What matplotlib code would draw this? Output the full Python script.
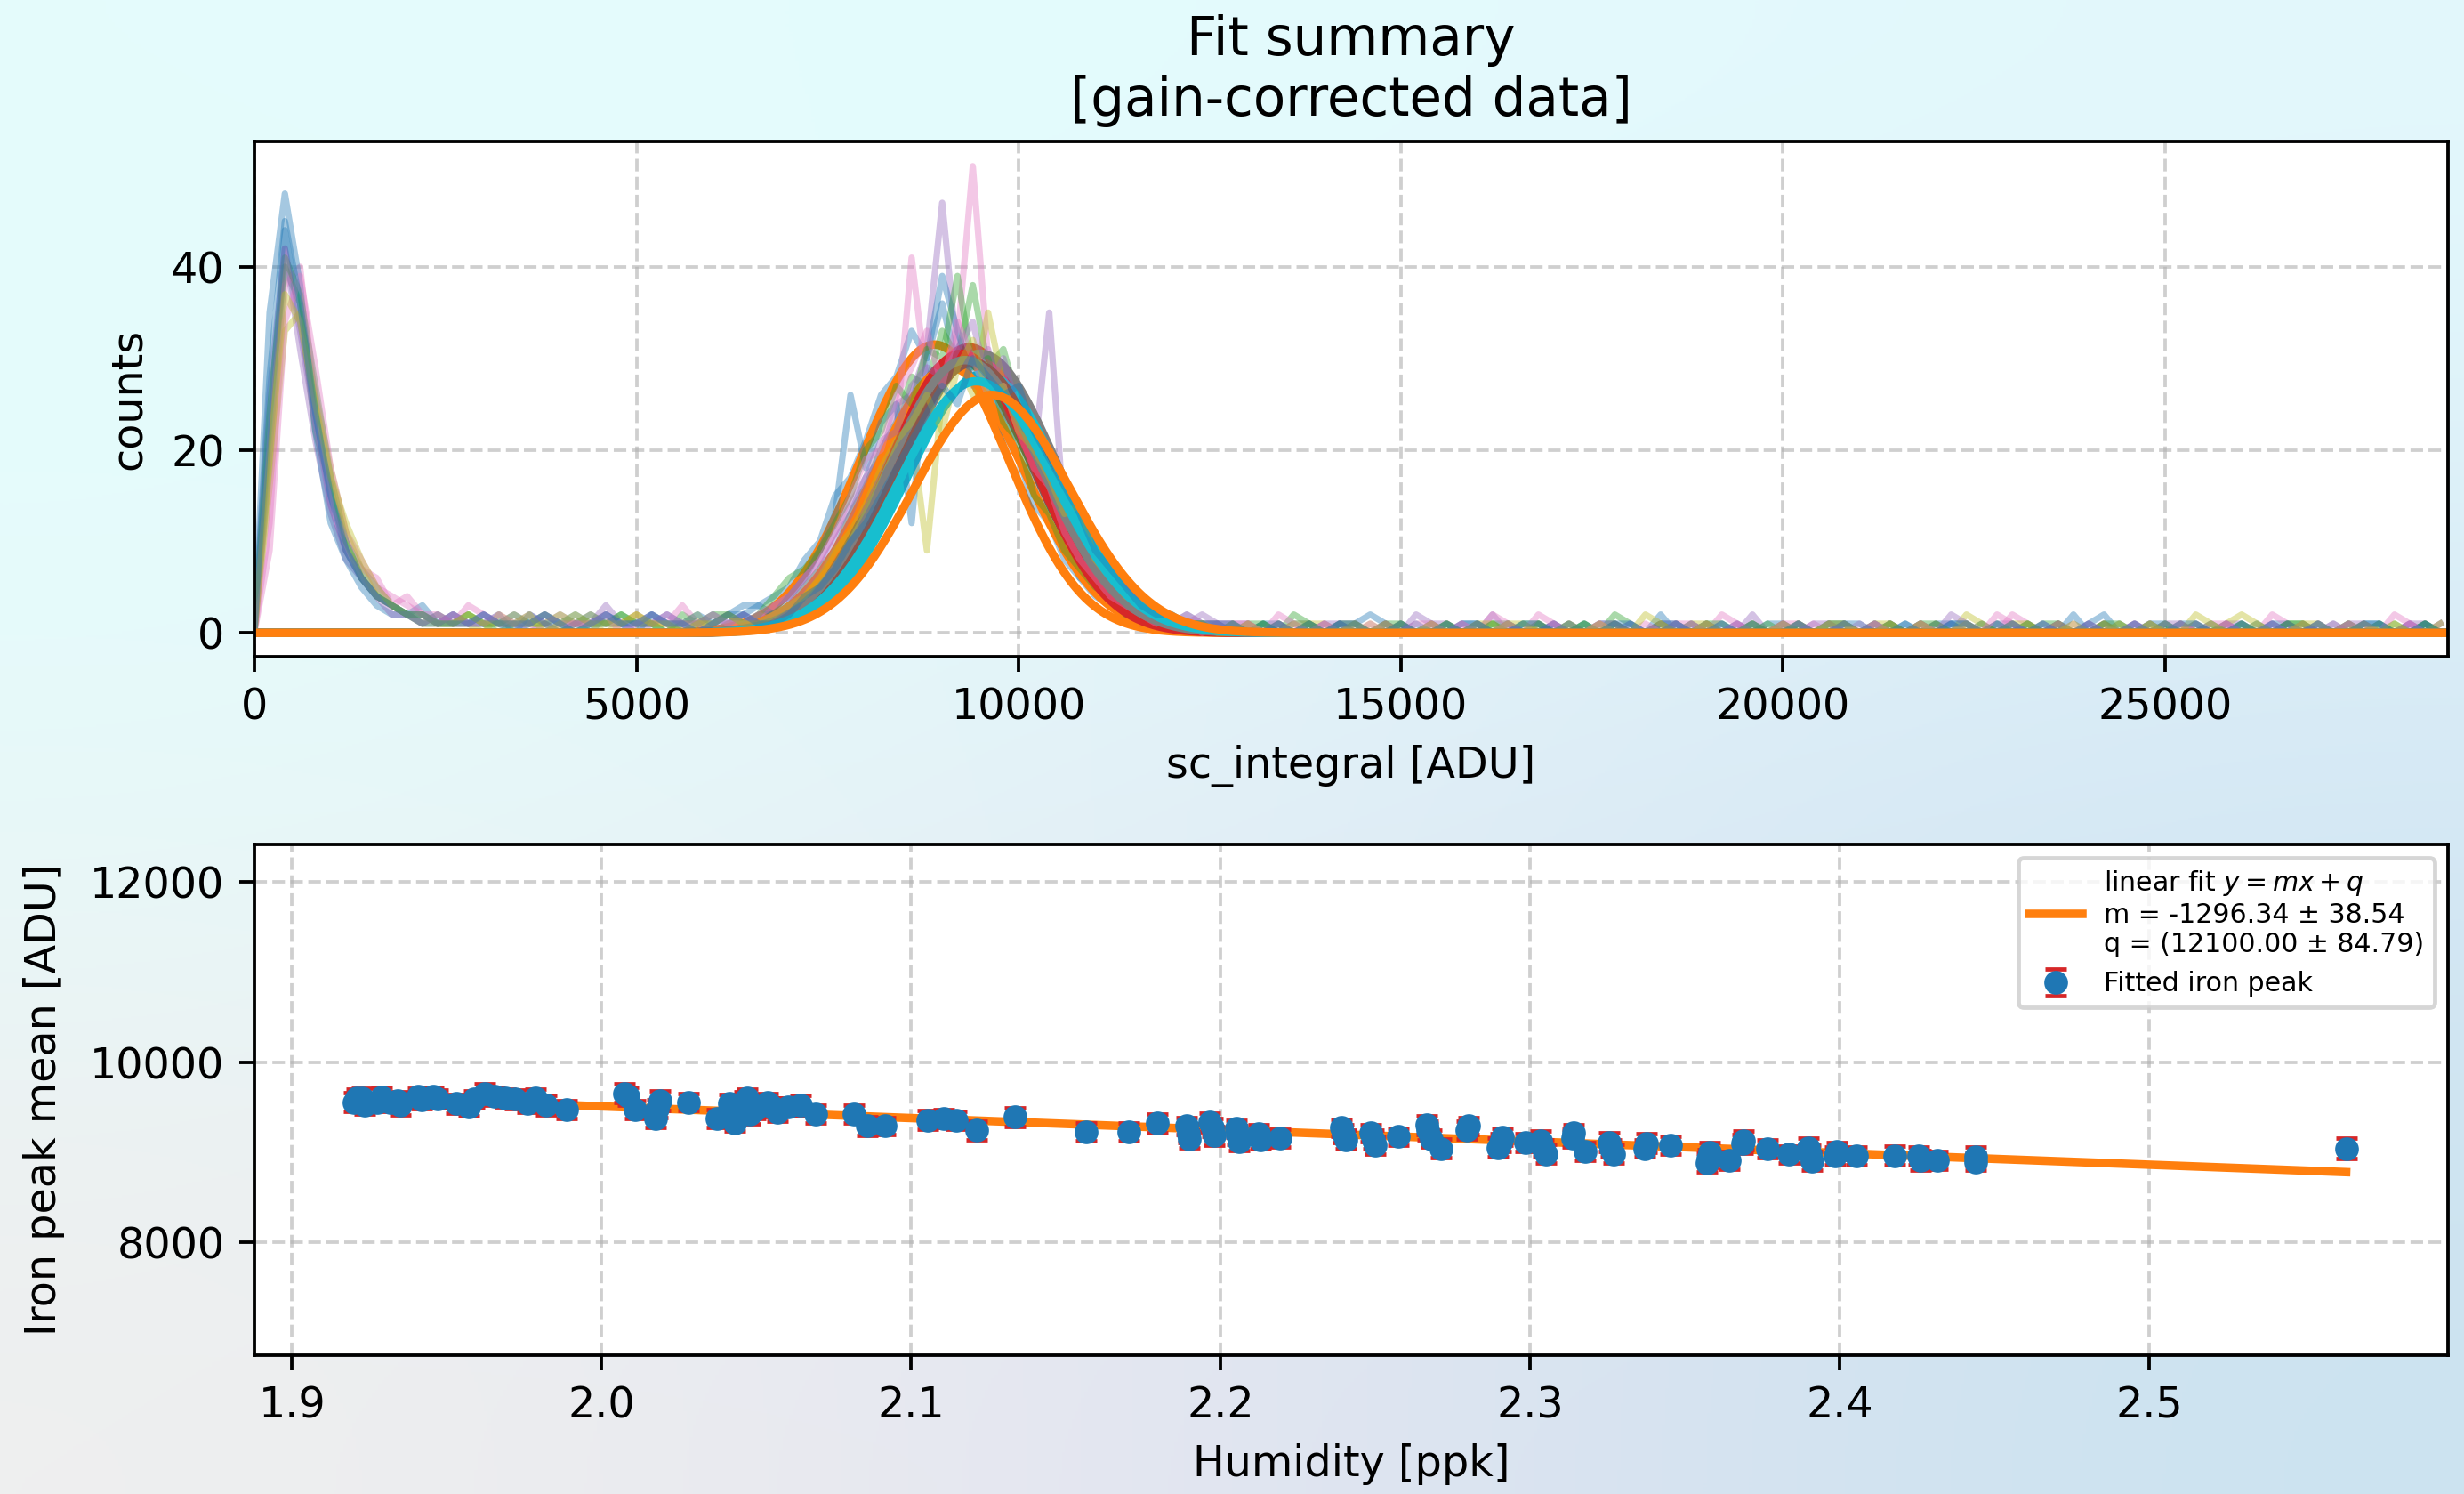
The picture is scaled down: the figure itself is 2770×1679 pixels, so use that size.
import numpy as np
import matplotlib
matplotlib.use("Agg")
import matplotlib.pyplot as plt
from matplotlib.colors import to_rgb

# ---------------- data: top panel (histograms, 200 ADU sampling) ----------------
bin_step = 200
counts_1 = [0, 22, 44, 34, 24, 15, 10, 7, 5, 3, 2, 3, 1,
            2, 1, 1, 2, 0, 1, 2, 1, 1, 0, 2, 1, 1, 2, 1, 0, 1, 2, 1, 2,
            3, 4, 5, 8, 10, 15, 17, 21, 26, 28, 33, 30, 36, 29, 31, 26, 24, 19, 17, 12, 10, 6, 5, 3, 2, 2, 1, 1, 2, 1, 0,
            1, 0, 1, 1, 0, 1, 0, 0, 1, 2, 1, 0, 0, 1, 0, 1, 1, 0, 0, 1, 0, 1, 0, 0, 1, 1, 0, 0, 2, 0,
            1, 0, 0, 1, 0, 1, 1, 0, 0, 1, 0, 0, 1, 0, 1, 0, 0, 1, 1, 0, 0, 1, 0, 0, 1, 0, 1, 2, 0, 0,
            1, 0, 0, 1, 0, 1, 0, 0, 1, 1, 0, 0, 1, 0, 0, 1, 0, 1, 0, 1]
counts_2 = [0, 18, 40, 36, 22, 16, 9, 6, 4, 3, 2, 1, 2,
            1, 2, 1, 0, 1, 1, 2, 1, 0, 1, 1, 2, 1, 1, 0, 2, 1, 1, 2, 1,
            2, 2, 3, 5, 7, 9, 13, 16, 20, 23, 28, 27, 33, 30, 38, 29, 31, 25, 23, 18, 15, 11, 8, 6, 4, 3, 2, 2, 1, 1, 1,
            0, 1, 1, 0, 2, 1, 0, 1, 0, 0, 1, 1, 0, 0, 1, 0, 0, 1, 1, 0, 1, 0, 0, 1, 0, 2, 1, 0, 0, 1,
            0, 1, 0, 0, 1, 0, 0, 1, 0, 1, 1, 0, 1, 0, 0, 1, 0, 0, 1, 0, 1, 0, 0, 1, 1, 0, 0, 1, 0, 0,
            0, 1, 0, 1, 0, 0, 1, 0, 0, 1, 1, 0, 0, 1, 0, 1, 0, 0, 1, 0]
counts_3 = [0, 26, 42, 31, 21, 13, 8, 6, 4, 3, 2, 2, 1,
            2, 1, 2, 1, 1, 0, 1, 2, 1, 1, 3, 1, 0, 1, 2, 1, 1, 0, 1, 2,
            1, 3, 4, 6, 8, 11, 14, 17, 19, 25, 26, 31, 47, 30, 27, 31, 24, 22, 19, 35, 12, 9, 6, 5, 3, 2, 2, 1, 1, 2, 1,
            1, 1, 0, 1, 0, 0, 1, 0, 1, 0, 0, 1, 0, 1, 1, 0, 0, 2, 0, 0, 1, 0, 1, 0, 0, 1, 0, 0, 1, 1,
            0, 0, 1, 0, 2, 0, 0, 1, 0, 0, 1, 0, 0, 1, 0, 1, 0, 1, 0, 0, 1, 1, 0, 0, 1, 0, 0, 1, 0, 1,
            0, 0, 1, 0, 0, 1, 1, 0, 0, 1, 0, 1, 0, 0, 1, 0, 0, 1, 1, 0]
counts_4 = [0, 12, 38, 40, 25, 14, 9, 7, 6, 3, 4, 2, 2,
            1, 3, 2, 1, 2, 1, 0, 1, 1, 2, 1, 1, 2, 1, 1, 3, 1, 1, 2, 1,
            2, 1, 3, 4, 6, 9, 12, 14, 18, 22, 41, 27, 29, 32, 51, 30, 28, 24, 21, 19, 14, 10, 9, 5, 4, 3, 2, 1, 2, 1, 1,
            0, 1, 0, 2, 1, 0, 0, 1, 1, 0, 1, 0, 0, 1, 0, 1, 0, 2, 1, 0, 0, 1, 0, 0, 1, 0, 1, 0, 0, 1,
            1, 0, 2, 1, 0, 0, 1, 0, 1, 0, 0, 1, 0, 1, 0, 0, 1, 0, 0, 1, 0, 2, 1, 0, 0, 1, 0, 1, 0, 0,
            1, 0, 0, 1, 0, 1, 0, 0, 2, 1, 0, 0, 1, 0, 1, 0, 0, 1, 0, 1]
counts_5 = [0, 16, 33, 35, 26, 18, 11, 7, 4, 3, 2, 1, 1,
            1, 1, 0, 2, 1, 1, 1, 2, 1, 1, 0, 1, 2, 1, 1, 1, 2, 0, 1, 1,
            1, 2, 2, 4, 5, 8, 10, 13, 16, 20, 22, 9, 26, 30, 26, 35, 27, 24, 22, 18, 16, 14, 10, 7, 4, 3, 2, 2, 1, 1, 0,
            1, 0, 0, 1, 0, 1, 1, 0, 0, 1, 0, 1, 0, 0, 1, 0, 1, 1, 0, 0, 1, 0, 1, 0, 0, 1, 0, 0, 1, 0,
            1, 1, 0, 0, 1, 0, 0, 1, 0, 1, 0, 0, 1, 1, 0, 0, 1, 0, 2, 1, 0, 0, 1, 0, 1, 0, 0, 1, 0, 0,
            1, 0, 1, 0, 0, 1, 2, 1, 0, 0, 1, 0, 0, 1, 0, 1, 0, 0, 1, 0]
counts_6 = [0, 35, 48, 38, 22, 12, 8, 5, 3, 2, 2, 1, 1,
            2, 1, 1, 1, 0, 2, 1, 1, 2, 1, 1, 1, 0, 2, 1, 1, 2, 1, 2, 3,
            3, 2, 4, 6, 9, 13, 26, 18, 23, 25, 12, 30, 39, 33, 28, 27, 22, 19, 14, 12, 8, 6, 4, 3, 2, 1, 2, 1, 1, 0, 1,
            0, 0, 1, 0, 1, 1, 0, 1, 0, 0, 1, 0, 1, 0, 0, 1, 1, 0, 1, 0, 0, 1, 0, 1, 0, 0, 1, 0, 1, 1,
            0, 1, 0, 0, 1, 0, 1, 0, 0, 1, 1, 0, 0, 1, 0, 0, 1, 1, 0, 0, 1, 0, 1, 0, 0, 2, 0, 0, 1, 0,
            1, 1, 0, 0, 1, 0, 0, 1, 0, 1, 0, 1, 0, 0, 1, 1, 0, 0, 1, 0]
counts_7 = [0, 24, 41, 37, 27, 17, 10, 6, 4, 3, 2, 2, 1,
            1, 2, 1, 1, 2, 1, 1, 0, 1, 2, 1, 2, 1, 1, 0, 1, 1, 2, 2, 1,
            2, 4, 6, 7, 9, 12, 15, 20, 22, 27, 25, 31, 30, 39, 29, 30, 23, 21, 15, 13, 9, 7, 5, 4, 2, 2, 1, 1, 1, 1, 0,
            1, 0, 1, 0, 0, 1, 0, 1, 1, 0, 0, 1, 0, 0, 1, 0, 0, 1, 0, 1, 1, 0, 0, 1, 0, 1, 0, 0, 1, 0,
            0, 1, 1, 0, 0, 1, 0, 1, 0, 0, 1, 0, 0, 1, 0, 1, 1, 0, 0, 1, 0, 0, 1, 0, 1, 0, 0, 1, 1, 0,
            0, 1, 0, 0, 1, 0, 1, 0, 0, 1, 1, 0, 0, 1, 0, 0, 1, 0, 1, 0]
counts_8 = [0, 20, 42, 33, 23, 14, 9, 6, 4, 2, 2, 1, 2,
            1, 1, 2, 1, 1, 2, 1, 0, 1, 1, 2, 1, 1, 1, 2, 1, 0, 1, 1, 2,
            1, 2, 3, 5, 7, 10, 13, 17, 21, 22, 27, 29, 28, 31, 34, 27, 30, 24, 21, 17, 14, 11, 7, 5, 5, 3, 2, 1, 1, 1, 1,
            0, 1, 0, 1, 0, 0, 1, 1, 0, 0, 1, 0, 2, 1, 0, 0, 1, 0, 1, 0, 0, 1, 0, 0, 1, 1, 0, 0, 1, 0,
            1, 0, 0, 1, 0, 0, 1, 0, 1, 1, 0, 0, 1, 0, 0, 1, 0, 2, 1, 0, 0, 1, 0, 1, 0, 0, 1, 0, 0, 1,
            0, 1, 1, 0, 0, 1, 0, 0, 1, 0, 1, 0, 0, 1, 1, 0, 0, 1, 0, 0]
counts_9 = [0, 9, 34, 39, 29, 18, 11, 8, 5, 4, 3, 2, 1,
            2, 1, 1, 2, 1, 1, 2, 1, 1, 1, 2, 0, 1, 2, 1, 1, 1, 2, 1, 1,
            2, 3, 4, 6, 8, 11, 15, 19, 20, 26, 29, 33, 27, 34, 30, 26, 27, 22, 18, 16, 11, 8, 6, 4, 3, 2, 1, 2, 1, 0, 1,
            1, 1, 0, 0, 1, 0, 1, 0, 0, 1, 0, 0, 1, 1, 0, 1, 0, 0, 1, 0, 2, 1, 0, 0, 1, 0, 0, 1, 0, 1,
            0, 1, 0, 1, 0, 0, 1, 1, 0, 0, 1, 0, 1, 0, 0, 1, 0, 0, 1, 0, 2, 1, 0, 0, 1, 0, 1, 0, 0, 1,
            0, 0, 1, 0, 1, 1, 0, 0, 1, 0, 0, 1, 0, 1, 0, 0, 2, 1, 0, 0]
counts_10 = [0, 19, 37, 34, 25, 17, 12, 8, 5, 3, 2, 2, 1,
             1, 2, 1, 1, 1, 2, 0, 1, 2, 1, 1, 1, 2, 1, 1, 0, 1, 1, 2, 1,
             1, 2, 3, 4, 6, 9, 11, 14, 18, 21, 23, 26, 22, 29, 32, 26, 27, 22, 20, 17, 13, 14, 8, 6, 4, 3, 2, 1, 1, 1, 0,
             0, 1, 0, 0, 1, 1, 0, 0, 1, 0, 1, 0, 0, 1, 0, 0, 1, 0, 1, 1, 0, 0, 1, 0, 1, 0, 0, 2, 1, 0,
             0, 1, 0, 0, 1, 0, 1, 0, 0, 1, 1, 0, 0, 1, 0, 1, 0, 0, 1, 0, 0, 1, 1, 0, 0, 1, 0, 0, 1, 0,
             1, 0, 0, 2, 1, 0, 0, 1, 0, 0, 1, 1, 0, 0, 1, 0, 1, 0, 0, 1]
counts_11 = [0, 28, 45, 36, 24, 15, 9, 6, 4, 3, 2, 2, 1,
             1, 1, 2, 1, 1, 1, 2, 1, 0, 1, 2, 1, 1, 2, 1, 1, 0, 1, 2, 2,
             1, 1, 2, 4, 5, 7, 10, 12, 15, 18, 21, 24, 27, 25, 30, 28, 26, 27, 22, 19, 16, 13, 9, 7, 5, 3, 2, 2, 1, 1, 1,
             1, 0, 0, 1, 0, 1, 0, 1, 1, 0, 0, 1, 0, 0, 1, 0, 1, 0, 0, 1, 1, 0, 1, 0, 0, 1, 1, 0, 0, 1,
             0, 0, 1, 0, 1, 0, 0, 1, 0, 0, 1, 1, 0, 0, 1, 0, 0, 1, 1, 0, 0, 1, 0, 1, 0, 0, 1, 0, 0, 1,
             0, 0, 1, 1, 0, 0, 1, 0, 1, 0, 0, 1, 0, 0, 1, 1, 0, 0, 1, 0]
histograms = [counts_1, counts_2, counts_3, counts_4, counts_5, counts_6,
              counts_7, counts_8, counts_9, counts_10, counts_11]

# Gaussian fit parameters of the iron peak (one per histogram)
fit_amp = [31.5, 31.2, 30.0, 30.5, 28.3, 29.0, 30.5, 29.5, 29.8, 27.5, 26.0]
fit_mean = [8900, 9350, 9200, 9500, 9550, 9100, 9250, 9400, 9300, 9450, 9650]
fit_sigma = [960, 950, 980, 1000, 1000, 980, 940, 990, 1000, 1010, 1020]

# ---------------- data: bottom panel ----------------
humidity = [1.9201, 1.9210, 1.9226, 1.9235, 1.9276, 1.9290, 1.9317, 1.9342, 1.9350, 1.9408,
            1.9420, 1.9457, 1.9470, 1.9531, 1.9572, 1.9589, 1.9622, 1.9655, 1.9690, 1.9720,
            1.9762, 1.9787, 1.9820, 1.9886, 2.0075, 2.0085, 2.0108, 2.0174, 2.0180, 2.0190,
            2.0281, 2.0372, 2.0413, 2.0429, 2.0440, 2.0462, 2.0470, 2.0480, 2.0495, 2.0536,
            2.0550, 2.0569, 2.0602, 2.0643, 2.0692, 2.0816, 2.0857, 2.0915, 2.1055, 2.1105,
            2.1146, 2.1212, 2.1336, 2.1566, 2.1704, 2.1795, 2.1890, 2.1896, 2.1900, 2.1965,
            2.1973, 2.1980, 2.2050, 2.2055, 2.2060, 2.2123, 2.2130, 2.2192, 2.2390, 2.2397,
            2.2405, 2.2485, 2.2493, 2.2500, 2.2575, 2.2665, 2.2670, 2.2680, 2.2712, 2.2795,
            2.2800, 2.2895, 2.2904, 2.2910, 2.2986, 2.3035, 2.3041, 2.3050, 2.3137, 2.3140,
            2.3178, 2.3255, 2.3260, 2.3270, 2.3370, 2.3375, 2.3452, 2.3570, 2.3575, 2.3580,
            2.3644, 2.3685, 2.3690, 2.3767, 2.3836, 2.3900, 2.3904, 2.3910, 2.3986, 2.3990,
            2.4055, 2.4178, 2.4255, 2.4260, 2.4315, 2.4438, 2.4440, 2.5636]
peak_mean = [9554, 9600, 9603, 9520, 9554, 9610, 9554, 9570, 9520, 9620,
             9580, 9620, 9590, 9537, 9504, 9587, 9653, 9620, 9600, 9587,
             9537, 9603, 9521, 9471, 9653, 9620, 9471, 9372, 9480, 9570,
             9554, 9372, 9537, 9322, 9450, 9570, 9600, 9420, 9471, 9554,
             9500, 9438, 9504, 9521, 9421, 9421, 9289, 9289, 9355, 9372,
             9355, 9240, 9388, 9223, 9223, 9322, 9290, 9207, 9150, 9330,
             9273, 9180, 9260, 9190, 9120, 9207, 9140, 9157, 9270, 9207,
             9140, 9210, 9140, 9080, 9173, 9300, 9240, 9150, 9041, 9240,
             9290, 9050, 9107, 9170, 9107, 9130, 9041, 8980, 9157, 9210,
             9008, 9110, 9041, 8980, 9041, 9100, 9074, 8880, 8926, 9000,
             8909, 9091, 9130, 9041, 8975, 9050, 8975, 8900, 8959, 9010,
             8959, 8959, 8960, 8909, 8909, 8893, 8950, 9041]
peak_err = [102, 95, 108, 99, 92, 106, 101, 97, 104, 93,
            100, 103, 96, 107, 101, 92, 105, 99, 97, 103,
            95, 101, 109, 99, 106, 94, 103, 97, 101, 105,
            95, 99, 103, 92, 107, 101, 97, 105, 99, 94,
            103, 96, 101, 107, 99, 97, 105, 94, 103, 99,
            96, 101, 107, 99, 97, 103, 94, 105, 99, 101,
            96, 107, 97, 103, 99, 94, 105, 101, 96, 99,
            103, 97, 107, 99, 94, 101, 105, 96, 103, 99,
            97, 107, 101, 94, 99, 103, 96, 105, 101, 97,
            99, 107, 94, 103, 96, 101, 99, 105, 97, 103,
            96, 101, 107, 99, 94, 103, 97, 105, 99, 96,
            101, 103, 97, 107, 99, 94, 105, 112]
fit_m, fit_m_err = -1296.34, 38.54
fit_q, fit_q_err = 12100.00, 84.79

# ---------------- figure ----------------
DPI = 343
fig = plt.figure(figsize=(2770 / DPI, 1679 / DPI), dpi=DPI)

# gradient background
bg = fig.add_axes([0, 0, 1, 1], zorder=-10)
grid_cols = [["#e4fcfc", "#e4fcfd", "#e3f8fc"],
             ["#e6fbfb", "#e3f1f8", "#d6e8f5"],
             ["#efefef", "#e3e3f0", "#cbe3f0"]]
img = np.array([[to_rgb(c) for c in row] for row in grid_cols])
bg.imshow(img, extent=[0, 1, 0, 1], origin="upper", aspect="auto", interpolation="bicubic")
bg.set_axis_off()

ax1 = fig.add_axes([0.1032, 0.5605, 0.8903, 0.3448])
ax2 = fig.add_axes([0.1032, 0.0929, 0.8903, 0.3419])
for ax in (ax1, ax2):
    ax.set_facecolor("white")
    ax.grid(True, linestyle="--", alpha=0.6)
    ax.set_axisbelow(True)

xfit = np.linspace(0, 28700, 1200)
for k, h in enumerate(histograms):
    h = np.asarray(h, dtype=float)
    x = np.arange(len(h)) * bin_step
    ax1.plot(x, h, lw=1.5, alpha=0.4)
    g = fit_amp[k] * np.exp(-0.5 * ((xfit - fit_mean[k]) / fit_sigma[k]) ** 2)
    ax1.plot(xfit, g, lw=2.0)

ax1.set_xlim(0, 28700)
ax1.set_ylim(-2.6, 53.7)
ax1.set_xticks([0, 5000, 10000, 15000, 20000, 25000])
ax1.set_yticks([0, 20, 40])
ax1.set_xlabel("sc_integral [ADU]")
ax1.set_ylabel("counts", labelpad=5)
ax1.set_title("Fit summary\n[gain-corrected data]", fontsize=12.5)

hx = np.asarray(humidity)
label_fit = ("linear fit $y = mx + q$\n"
             f"m = {fit_m:.2f} ± {fit_m_err:.2f}\n"
             f"q = ({fit_q:.2f} ± {fit_q_err:.2f})")
ax2.plot(hx, fit_m * hx + fit_q, color="tab:orange", lw=2.0, label=label_fit, zorder=1.5)
ax2.errorbar(hx, peak_mean, yerr=peak_err, fmt="o", color="tab:blue", ecolor="tab:red",
             markersize=4.6, capsize=2.5, elinewidth=1.0, label="Fitted iron peak")
ax2.set_xlim(1.8878, 2.5965)
ax2.set_ylim(6742, 12419)
ax2.set_yticks([8000, 10000, 12000])
ax2.set_xlabel("Humidity [ppk]")
ax2.set_ylabel("Iron peak mean [ADU]", labelpad=6)
ax2.legend(loc="upper right", fontsize=6.3)

fig.savefig("out.png", dpi=DPI)
